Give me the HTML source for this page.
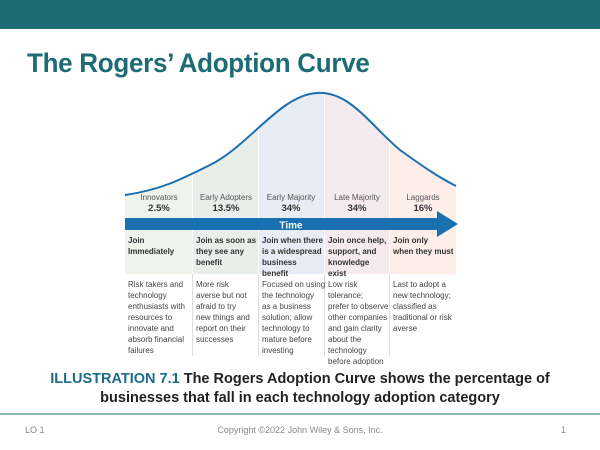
<!DOCTYPE html>
<html><head><meta charset="utf-8"><style>
body{margin:0;width:600px;height:450px;background:#fff;overflow:hidden;font-family:"Liberation Sans",sans-serif;position:relative}
.ban{position:absolute;left:0;top:0;width:600px;height:29px;background:#1d6b75}
.title{position:absolute;left:27px;top:48px;font-size:27px;font-weight:bold;color:#1d6b75;letter-spacing:-0.3px;transform:scaleX(0.963);transform-origin:0 0;white-space:nowrap}
.cap{position:absolute;left:0;width:600px;top:370px;text-align:center;font-size:14.5px;font-weight:bold;line-height:19px;color:#222;white-space:nowrap}
.cap span{color:#1d6b8a}
.line{position:absolute;left:0;top:413px;width:600px;height:2px;background:#8ab4b8}
.ft{position:absolute;top:425px;font-size:9px;color:#888}
svg{position:absolute;left:0;top:0}
</style></head><body>
<div class="ban"></div>
<div class="title">The Rogers’ Adoption Curve</div>
<svg width="600" height="450" font-family="Liberation Sans, sans-serif">
<defs><clipPath id="c"><path d="M125,195 C160,190 180,180 210,165 C250,145 280,95 317,93 C350,91 370,125 400,150 C425,168 440,178 456,186 L456,274 L125,274Z"/></clipPath></defs>
<g clip-path="url(#c)">
<rect x="125" y="80" width="67" height="194" fill="#eef4ea"/>
<rect x="193" y="80" width="65" height="194" fill="#e8eeea"/>
<rect x="259" y="80" width="65" height="194" fill="#e8ecf5"/>
<rect x="325" y="80" width="64" height="194" fill="#f5eaee"/>
<rect x="390" y="80" width="66" height="194" fill="#fdeeea"/>
</g>
<path d="M125,195 C160,190 180,180 210,165 C250,145 280,95 317,93 C350,91 370,125 400,150 C425,168 440,178 456,186" fill="none" stroke="#1a6fb0" stroke-width="2"/>
<g stroke="#ddd" stroke-width="1">
<line x1="192.5" y1="274" x2="192.5" y2="356"/><line x1="258.5" y1="274" x2="258.5" y2="356"/><line x1="324.5" y1="274" x2="324.5" y2="356"/><line x1="389.5" y1="274" x2="389.5" y2="356"/>
</g>
<g font-size="8" fill="#555" text-anchor="middle">
<text x="159" y="200">Innovators</text><text x="226" y="200">Early Adopters</text><text x="291" y="200">Early Majority</text><text x="357" y="200">Late Majority</text><text x="423" y="200">Laggards</text>
</g>
<g font-size="9.5" font-weight="bold" fill="#333" text-anchor="middle">
<text x="159" y="211">2.5%</text><text x="226" y="211">13.5%</text><text x="291" y="211">34%</text><text x="357" y="211">34%</text><text x="423" y="211">16%</text>
</g>
<rect x="125" y="218" width="314" height="12" fill="#1a6fb0"/>
<polygon points="437,211 458,224 437,237" fill="#1a6fb0"/>
<text x="291" y="228.5" font-size="10" font-weight="bold" fill="#fff" text-anchor="middle">Time</text>
<g font-size="8" font-weight="bold" fill="#333">
<text x="128" y="243">Join</text><text x="128" y="254">Immediately</text>
<text x="196" y="243">Join as soon as</text><text x="196" y="254">they see any</text><text x="196" y="265">benefit</text>
<text x="262" y="243">Join when there</text><text x="262" y="254">is a widespread</text><text x="262" y="265">business</text><text x="262" y="276">benefit</text>
<text x="328" y="243">Join once help,</text><text x="328" y="254">support, and</text><text x="328" y="265">knowledge</text><text x="328" y="276">exist</text>
<text x="393" y="243">Join only</text><text x="393" y="254">when they must</text>
</g>
<g font-size="8" fill="#444">
<text x="128" y="287">Risk takers and</text><text x="128" y="298">technology</text><text x="128" y="309">enthusiasts with</text><text x="128" y="320">resources to</text><text x="128" y="331">innovate and</text><text x="128" y="342">absorb financial</text><text x="128" y="353">failures</text>
<text x="196" y="287">More risk</text><text x="196" y="298">averse but not</text><text x="196" y="309">afraid to try</text><text x="196" y="320">new things and</text><text x="196" y="331">report on their</text><text x="196" y="342">successes</text>
<text x="262" y="287">Focused on using</text><text x="262" y="298">the technology</text><text x="262" y="309">as a business</text><text x="262" y="320">solution; allow</text><text x="262" y="331">technology to</text><text x="262" y="342">mature before</text><text x="262" y="353">investing</text>
<text x="328" y="287">Low risk</text><text x="328" y="298">tolerance;</text><text x="328" y="309">prefer to observe</text><text x="328" y="320">other companies</text><text x="328" y="331">and gain clarity</text><text x="328" y="342">about the</text><text x="328" y="353">technology</text><text x="328" y="364">before adoption</text>
<text x="393" y="287">Last to adopt a</text><text x="393" y="298">new technology;</text><text x="393" y="309">classified as</text><text x="393" y="320">traditional or risk</text><text x="393" y="331">averse</text>
</g>
</svg>
<div class="cap"><span>ILLUSTRATION 7.1</span> The Rogers Adoption Curve shows the percentage of<br>businesses that fall in each technology adoption category</div>
<div class="line"></div>
<div class="ft" style="left:25px">LO 1</div>
<div class="ft" style="left:0;width:600px;text-align:center">Copyright ©2022 John Wiley &amp; Sons, Inc.</div>
<div class="ft" style="left:561px">1</div>
</body></html>
